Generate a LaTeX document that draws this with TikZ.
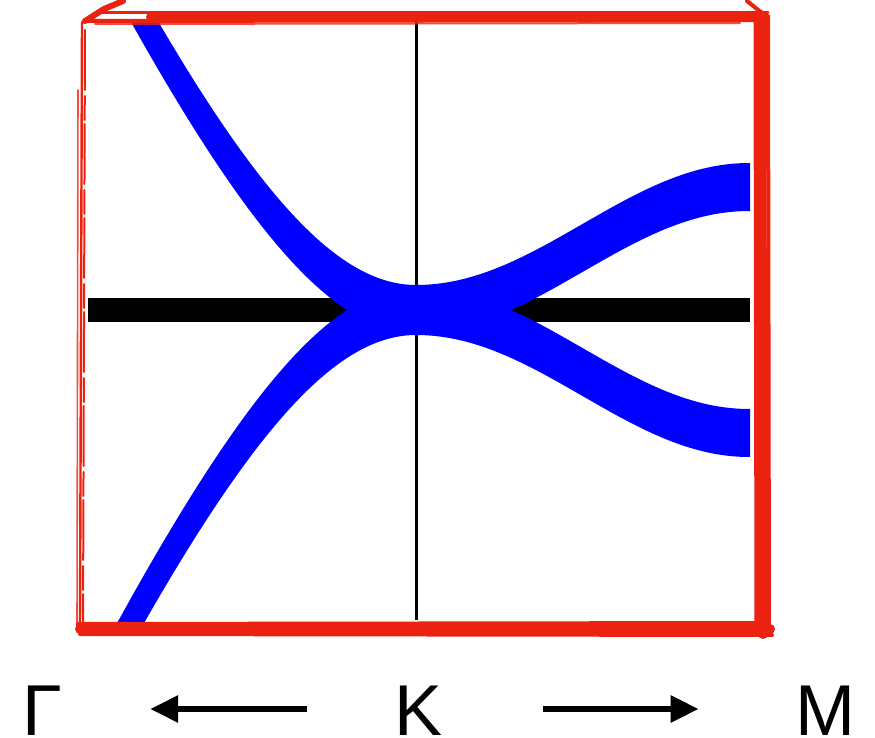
\documentclass[tikz,border=0pt]{standalone}
\usepackage{fontspec}
\setmainfont{Liberation Sans}
\usetikzlibrary{arrows.meta}
\definecolor{sketchred}{RGB}{236,34,16}
\begin{document}
\begin{tikzpicture}[x=0.5pt,y=-0.5pt,
  declare function={dl(\t)=539*(sqrt(1+(\t/233.7)*(\t/233.7))-1); dr(\t)=61*(1-cos(0.54054*\t));},
  bandfill/.style={fill=blue},
  sk/.style={draw=sketchred,line cap=round,line join=round},
  lab/.style={inner sep=0pt,text height=26pt,text depth=0pt,font=\fontsize{36}{40}\selectfont},
  arr/.style={line width=3pt,-{Triangle[length=14pt,width=13pt]}}]
\useasboundingbox (0,0) rectangle (875,738);
% axes
\draw[line width=1.5pt] (416,20) -- (416,620);
\fill (88,298) rectangle (750,322);
% bands
\begin{scope}
\clip (88,20) rectangle (750,622);
\fill[bandfill] plot[domain=100:416,samples=80] (\x,{285-dl(\x-416)})
  -- plot[domain=416:752,samples=60] (\x,{285-dr(\x-416)})
  -- plot[domain=752:416,samples=60] (\x,{333-dr(\x-416)})
  -- plot[domain=416:100,samples=80] (\x,{333-dl(\x-416)}) -- cycle;
\fill[bandfill] plot[domain=100:416,samples=80] (\x,{287+dl(\x-416)})
  -- plot[domain=416:752,samples=60] (\x,{287+dr(\x-416)})
  -- plot[domain=752:416,samples=60] (\x,{335+dr(\x-416)})
  -- plot[domain=416:100,samples=80] (\x,{335+dl(\x-416)}) -- cycle;
\end{scope}
% sketchy frame: top
\draw[sk,line width=4pt] (150,17) -- (765,17);
\draw[sk,line width=2pt] (86,21) -- (765,20);
\draw[sk,line width=1.5pt] (100,13) -- (768,13);
\draw[sk,line width=1pt,opacity=0.8] (95,24) -- (740,23);
\draw[sk,line width=3pt] (85,21) -- (104,9) -- (123,1);
\draw[sk,line width=2pt] (747,1) -- (762,13);
% left
\draw[sk,line width=1.2pt] (82,22) -- (80,630);
\draw[sk,line width=1pt,dash pattern=on 30pt off 3pt on 12pt off 2pt] (85,30) -- (83,628);
\draw[sk,line width=0.8pt,opacity=0.8] (78,90) -- (77,630);
% right
\draw[sk,line width=5pt] (761,15) -- (763,634);
\draw[sk,line width=2.5pt] (756,18) -- (757,630);
\draw[sk,line width=2pt] (768,16) -- (769,635);
% bottom
\draw[sk,line width=5pt] (80,629) -- (770,629);
\draw[sk,line width=2pt] (78,624) -- (760,623);
\draw[sk,line width=2pt] (80,634) -- (772,635);
% labels
\node[lab] (G) at (42,709) {Γ};
\node[lab] (K) at (419,709) {K};
\node[lab] (M) at (825,709) {M};
\draw[arr,shorten <=44pt,shorten >=44pt] (K) -- (G);
\draw[arr,shorten <=50pt,shorten >=48pt] (K) -- (M);
\end{tikzpicture}
\end{document}
